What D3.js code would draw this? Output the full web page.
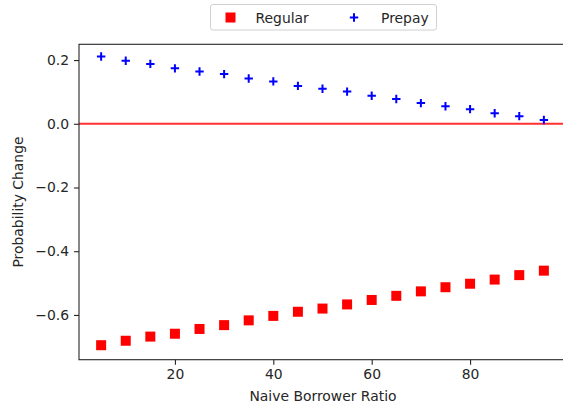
<!DOCTYPE html>
<html>
<head>
<meta charset="utf-8">
<script src="https://cdn.jsdelivr.net/npm/d3@7"></script>
<style>
  html, body { margin: 0; padding: 0; background: #fff; }
  svg { display: block; font-family: "DejaVu Sans", sans-serif; }
</style>
</head>
<body>
<svg id="chart" width="563" height="412"></svg>
<script>
const ratios = [5, 10, 15, 20, 25, 30, 35, 40, 45, 50, 55, 60, 65, 70, 75, 80, 85, 90, 95];
const regular = [-0.695, -0.681, -0.668, -0.659, -0.644, -0.632, -0.617, -0.603, -0.590, -0.580,
                 -0.567, -0.553, -0.540, -0.526, -0.513, -0.502, -0.489, -0.475, -0.461];
const prepay = [0.211, 0.198, 0.188, 0.174, 0.164, 0.156, 0.142, 0.133, 0.119, 0.110,
                0.101, 0.088, 0.078, 0.065, 0.055, 0.046, 0.033, 0.024, 0.012];
const xTicks = [20, 40, 60, 80];
const yTicks = [0.2, 0.0, -0.2, -0.4, -0.6];
const seriesNames = ["Regular", "Prepay"];

const svg = d3.select("#chart");
const pLeft = 79, pRight = 566, pTop = 44.3, pBottom = 359.7;
const FS = 13.9;

const x = d3.scaleLinear().domain([0.5, 99.5]).range([pLeft, pRight]);
const y = d3.scaleLinear().domain([-0.7405, 0.2495]).range([pBottom, pTop]);

// zero reference line
svg.append("line")
  .attr("x1", pLeft).attr("x2", pRight)
  .attr("y1", y(0)).attr("y2", y(0))
  .attr("stroke", "#ff3030").attr("stroke-width", 2.1);

// Regular squares
svg.append("g").selectAll("rect")
  .data(ratios.map((r, i) => [r, regular[i]]))
  .join("rect")
  .attr("x", d => x(d[0]) - 5)
  .attr("y", d => y(d[1]) - 5)
  .attr("width", 10).attr("height", 10)
  .attr("fill", "#ff0000");

// Prepay plus markers
function plusPath(cx, cy) {
  return `M${cx - 4.2},${cy}H${cx + 4.2}M${cx},${cy - 4.2}V${cy + 4.2}`;
}
svg.append("g").selectAll("path")
  .data(ratios.map((r, i) => [r, prepay[i]]))
  .join("path")
  .attr("d", d => plusPath(x(d[0]), y(d[1])))
  .attr("stroke", "#0000ff").attr("stroke-width", 2).attr("fill", "none");

// axes
const xAxis = svg.append("g")
  .attr("transform", `translate(0,${pBottom})`)
  .call(d3.axisBottom(x).tickValues(xTicks).tickFormat(d3.format("d")).tickSize(5).tickPadding(4.5));
const yAxis = svg.append("g")
  .attr("transform", `translate(${pLeft},0)`)
  .call(d3.axisLeft(y).tickValues(yTicks)
        .tickFormat(d => d3.format(".1f")(d).replace("-", "\u2212")).tickSize(5).tickPadding(5));
[xAxis, yAxis].forEach(a => {
  a.select(".domain").remove();
  a.selectAll("text").attr("font-size", FS).attr("fill", "#262626").attr("font-family", "DejaVu Sans");
  a.selectAll("line").attr("stroke", "#262626").attr("stroke-width", 1.1);
});

// frame (top, left, bottom; right is off-canvas)
svg.append("rect")
  .attr("x", pLeft).attr("y", pTop)
  .attr("width", pRight - pLeft).attr("height", pBottom - pTop)
  .attr("fill", "none").attr("stroke", "#262626").attr("stroke-width", 1.1);

// axis labels
svg.append("text")
  .attr("x", 323).attr("y", 401)
  .attr("text-anchor", "middle").attr("font-size", FS).attr("fill", "#262626")
  .text("Naive Borrower Ratio");
svg.append("text")
  .attr("transform", `translate(23,${(pTop + pBottom) / 2}) rotate(-90)`)
  .attr("text-anchor", "middle").attr("font-size", FS).attr("fill", "#262626")
  .text("Probability Change");

// legend
const lg = svg.append("g");
lg.append("rect")
  .attr("x", 210.5).attr("y", 4.5).attr("width", 226).attr("height", 25.5)
  .attr("rx", 2.5).attr("fill", "#fff").attr("stroke", "#d0d0d0");
lg.append("rect").attr("x", 225.5).attr("y", 12.5).attr("width", 10).attr("height", 10).attr("fill", "#ff0000");
lg.append("path").attr("d", plusPath(354, 17.5)).attr("stroke", "#0000ff").attr("stroke-width", 2);
lg.append("text").attr("x", 255.5).attr("y", 22.5).attr("font-size", FS).attr("fill", "#262626").text(seriesNames[0]);
lg.append("text").attr("x", 381).attr("y", 22.5).attr("font-size", FS).attr("fill", "#262626").text(seriesNames[1]);
</script>
</body>
</html>
